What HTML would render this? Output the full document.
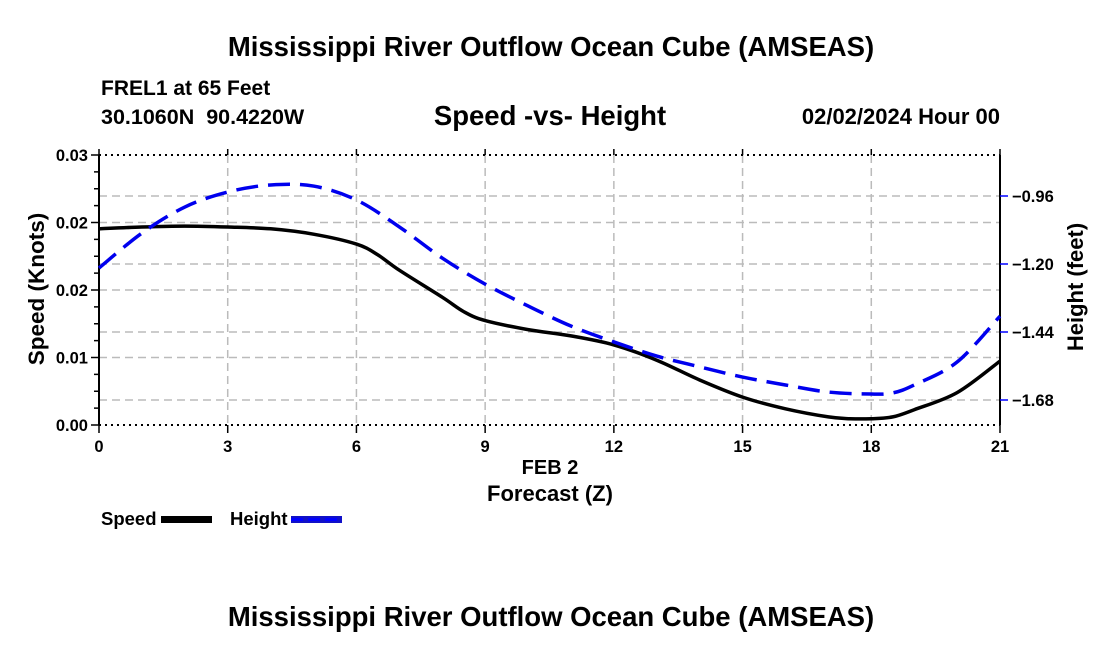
<!DOCTYPE html>
<html><head><meta charset="utf-8"><style>
html,body{margin:0;padding:0;background:#fff;}
svg text{font-family:"Liberation Sans",sans-serif;font-weight:bold;fill:#000;}
</style></head><body>
<svg id="chart" width="1100" height="650">
<text x="551" y="56" text-anchor="middle" font-size="27.5">Mississippi River Outflow Ocean Cube (AMSEAS)</text>
<text x="101" y="95" font-size="21">FREL1 at 65 Feet</text>
<text x="101" y="124" font-size="21.5">30.1060N&#160;&#160;90.4220W</text>
<text x="550" y="125" text-anchor="middle" font-size="27.5">Speed -vs- Height</text>
<text x="1000" y="124" text-anchor="end" font-size="22">02/02/2024 Hour 00</text>
<g id="grid"></g>
<g id="axes"></g>
<g id="series"></g>
<text x="550" y="474" text-anchor="middle" font-size="20">FEB 2</text>
<text x="550" y="501" text-anchor="middle" font-size="22">Forecast (Z)</text>
<text transform="translate(44,289) rotate(-90)" text-anchor="middle" font-size="22.5">Speed (Knots)</text>
<text transform="translate(1083,287) rotate(-90)" text-anchor="middle" font-size="22">Height (feet)</text>
<g>
<text x="101" y="525" font-size="18.5">Speed</text>
<rect x="161" y="516" width="51" height="7" fill="#000"/>
</g>
<g>
<text x="230" y="525" font-size="18.5">Height</text>
<rect x="291" y="516" width="51" height="7" fill="#1010c8"/>
<line x1="291" y1="519.5" x2="342" y2="519.5" stroke="#0000ff" stroke-width="3" stroke-dasharray="12,5"/>
</g>
<text x="551" y="626" text-anchor="middle" font-size="27.5">Mississippi River Outflow Ocean Cube (AMSEAS)</text>
</svg>
<script>
const hours=[0,1,2,3,4,5,6,6.5,7,8,8.5,9,10,11,12,13,14,15,16,17,17.5,18,18.5,19,20,21];
const speed=[0.0218,0.0220,0.0221,0.0220,0.0218,0.0212,0.0201,0.0189,0.0172,0.0142,0.0126,0.0116,0.0106,0.0099,0.0089,0.0072,0.0050,0.0031,0.0018,0.0009,0.0007,0.0007,0.0009,0.0017,0.0036,0.0071];
const hHours=[0,1,2,3,4,5,6,7,8,9,10,11,12,13,14,15,16,17,18,18.5,19,20,21];
const height=[-1.214,-1.091,-0.999,-0.946,-0.921,-0.925,-0.974,-1.069,-1.179,-1.271,-1.348,-1.419,-1.475,-1.525,-1.563,-1.599,-1.627,-1.652,-1.659,-1.655,-1.627,-1.546,-1.384];
const xTicks=[0,3,6,9,12,15,18,21];
const leftTicks=[0,0.0075,0.015,0.0225,0.03];
const leftLabels=["0.00","0.01","0.02","0.02","0.03"];
const rightTicks=[-0.96,-1.20,-1.44,-1.68];
const rightLabels=["\u22120.96","\u22121.20","\u22121.44","\u22121.68"];
const X0=99,X1=1000,Y0=425,Y1=155;
const xs=h=>X0+(h/21)*(X1-X0);
const yl=v=>Y0-(v/0.03)*(Y0-Y1);
const yr=v=>196+(-0.96-v)/0.24*68;
const NS="http://www.w3.org/2000/svg";
function mk(parent,tag,attrs){const e=document.createElementNS(NS,tag);for(const k in attrs)e.setAttribute(k,attrs[k]);parent.appendChild(e);return e;}
const grid=document.getElementById('grid'),axes=document.getElementById('axes'),series=document.getElementById('series');
xTicks.forEach(t=>{if(t>0&&t<21){const l=mk(grid,'line',{x1:xs(t),x2:xs(t),y1:Y1,y2:Y0,stroke:'#bbb','stroke-width':1.5,'stroke-dasharray':'8,5'});

}});
leftTicks.forEach(t=>{if(t>0&&t<0.03){const l=mk(grid,'line',{x1:X0,x2:X1,y1:yl(t),y2:yl(t),stroke:'#bbb','stroke-width':1.5,'stroke-dasharray':'8,5'});

}});
rightTicks.forEach(t=>{const l=mk(grid,'line',{x1:X0,x2:X1,y1:yr(t),y2:yr(t),stroke:'#bbb','stroke-width':1.5,'stroke-dasharray':'8,5'});

});
mk(axes,'line',{x1:X0,x2:X1,y1:Y1,y2:Y1,stroke:'#000','stroke-width':2,'stroke-dasharray':'2,4'});
mk(axes,'line',{x1:X0,x2:X1,y1:Y0,y2:Y0,stroke:'#000','stroke-width':2,'stroke-dasharray':'2,4'});
mk(axes,'line',{x1:X0,x2:X0,y1:Y1,y2:Y0,stroke:'#000','stroke-width':2});
mk(axes,'line',{x1:X1,x2:X1,y1:Y1,y2:Y0,stroke:'#000','stroke-width':2});
for(let i=0;i<=16;i++){const y=Y0-i*(Y0-Y1)/16;mk(axes,'line',{x1:X0-(i%4==0?8:5),x2:X0,y1:y,y2:y,stroke:'#000','stroke-width':1.5});}
leftTicks.forEach((t,i)=>{const tx=mk(axes,'text',{x:X0-11,y:yl(t)+6,'text-anchor':'end','font-size':16.5});tx.textContent=leftLabels[i];

});
rightTicks.forEach((t,i)=>{mk(axes,'line',{x1:X1,x2:X1+8,y1:yr(t),y2:yr(t),stroke:'#0000ff','stroke-width':1.5});
const tx=mk(axes,'text',{x:X1+12,y:yr(t)+6,'font-size':16.5});tx.textContent=rightLabels[i];

});
xTicks.forEach(t=>{mk(axes,'line',{x1:xs(t),x2:xs(t),y1:Y0,y2:Y0+8,stroke:'#000','stroke-width':1.5});mk(axes,'line',{x1:xs(t),x2:xs(t),y1:Y1,y2:Y1-6,stroke:'#000','stroke-width':1.5});
const tx=mk(axes,'text',{x:xs(t),y:Y0+27,'text-anchor':'middle','font-size':16.5});tx.textContent=String(t);

});
function smooth(pts){let d='M'+pts[0][0]+','+pts[0][1];for(let i=0;i<pts.length-1;i++){const p0=pts[Math.max(0,i-1)],p1=pts[i],p2=pts[i+1],p3=pts[Math.min(pts.length-1,i+2)];
const c1=[p1[0]+(p2[0]-p0[0])/6,p1[1]+(p2[1]-p0[1])/6],c2=[p2[0]-(p3[0]-p1[0])/6,p2[1]-(p3[1]-p1[1])/6];
d+=' C'+c1[0]+','+c1[1]+' '+c2[0]+','+c2[1]+' '+p2[0]+','+p2[1];}return d;}
const sp=mk(series,'path',{d:smooth(hours.map((h,i)=>[xs(h),yl(speed[i])])),fill:'none',stroke:'#000','stroke-width':3.5});


const hp=mk(series,'path',{d:smooth(hHours.map((h,i)=>[xs(h),yr(height[i])])),fill:'none',stroke:'#0000ee','stroke-width':3.5,'stroke-dasharray':'22,10'});


</script>
</body></html>
